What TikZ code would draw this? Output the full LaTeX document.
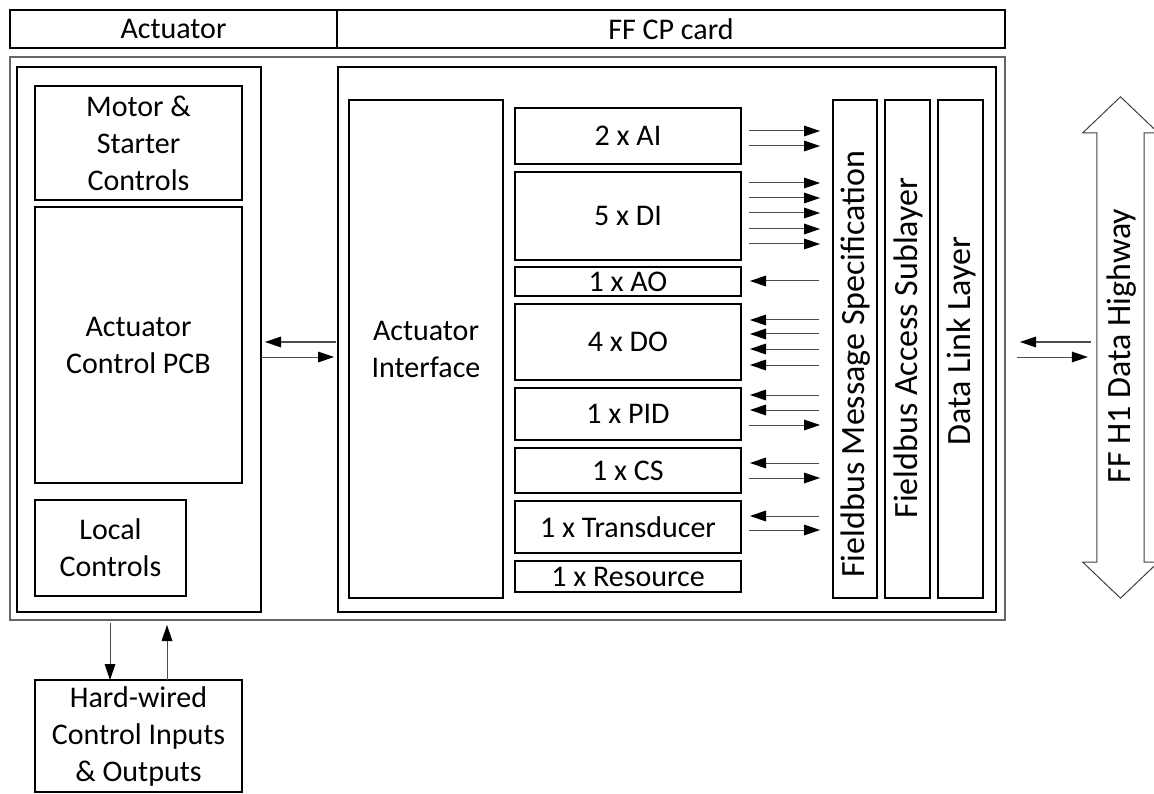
\documentclass[tikz,border=0pt]{standalone}
\usepackage{fontspec}
\setmainfont{Carlito}
\usetikzlibrary{arrows.meta, positioning, calc}

\begin{document}
\begin{tikzpicture}[x=1pt, y=-1pt,
  every node/.style={font=\fontsize{30}{37}\selectfont},
  blk/.style={rectangle, draw=black, line width=1.3pt, inner sep=0pt,
              outer sep=0pt, anchor=north west, align=center},
  box/.style n args={2}{blk, minimum width=#1, minimum height=#2},
  vtext/.style={rotate=90, inner sep=0pt, font=\fontsize{34}{40}\selectfont},
  flow/.style={-{Triangle[length=16pt,width=11pt,fill=black,line width=0pt]},
               line width=1pt, draw=black!70},
]
\useasboundingbox (0,0) rectangle (1154,794);

% Header
\node[box={327pt}{38pt}] (acthead) at (10,10) {Actuator};
\node[box={668pt}{38pt}] (ffhead)  at (337,10) {FF CP card};

% Frames
\node[box={995pt}{563pt}, draw=black!60] (outer) at (10,57) {};
\node[box={244pt}{545pt}] (act)    at (17,67) {};
\node[box={658pt}{545pt}] (ffcard) at (338,67) {};

% Actuator side
\node[box={207pt}{114pt}] (motor) at (35,86)  {Motor \&\\Starter\\Controls};
\node[box={207pt}{276pt}] (pcb)   at (35,207) {Actuator\\Control PCB};
\node[box={151pt}{96pt}]  (local) at (35,500) {Local\\Controls};
\node[box={207pt}{112pt}] (hw)    at (35,680) {Hard-wired\\Control Inputs\\\& Outputs};

% FF CP card side
\node[box={154pt}{498pt}] (aif) at (349,100) {Actuator\\Interface};
\node[box={226pt}{56pt}] (ai)  at (515,108) {2 x AI};
\node[box={226pt}{88pt}] (di)  at (515,172) {5 x DI};
\node[box={226pt}{29pt}] (ao)  at (515,267) {1 x AO};
\node[box={226pt}{76pt}] (do)  at (515,304) {4 x DO};
\node[box={226pt}{52pt}] (pid) at (515,388) {1 x PID};
\node[box={226pt}{45pt}] (cs)  at (515,448) {1 x CS};
\node[box={226pt}{52pt}] (td)  at (515,501) {1 x Transducer};
\node[box={226pt}{31pt}] (res) at (515,561) {1 x Resource};

% Protocol layers
\node[box={44pt}{498pt}] (fms)  at (833,100) {};
\node[box={45pt}{498pt}] (fasl) at (885,100) {};
\node[box={45pt}{498pt}] (dll)  at (938,100) {};
\node[vtext] (fmstext)  at (856,364) {Fieldbus Message Specification};
\node[vtext] (fasltext) at (908,348) {Fieldbus Access Sublayer};
\node[vtext] (dlltext)  at (961,341) {Data Link Layer};

% Data highway
\node[minimum width=47pt, minimum height=429pt, inner sep=0pt] (hwy) at (1120.5,347.5) {};
\draw[line width=1pt, black!75] (hwy.north west) -- ++(-14,0) -- ([yshift=36pt]hwy.north)
  -- ([xshift=14pt]hwy.north east) -- (hwy.north east) -- (hwy.south east)
  -- ([xshift=14pt]hwy.south east) -- ([yshift=-36pt]hwy.south)
  -- ([xshift=-14pt]hwy.south west) -- (hwy.south west) -- cycle;
\node[vtext] (hwytext) at (1122,346) {FF H1 Data Highway};

% Function block flows
\foreach \yy in {131,146,183,198,213,229,244,425,478,530}
  \draw[flow] ($(ai.east |- 0,\yy)+(8,0)$) -- ($(fms.west |- 0,\yy)+(-13,0)$);
\foreach \yy in {281,320,334,349,365,395,410,463,516}
  \draw[flow] ($(fms.west |- 0,\yy)+(-14,0)$) -- ($(ai.east |- 0,\yy)+(9,0)$);

% Actuator <-> interface
\draw[flow] ($(ffcard.west |- 0,342)+(-2,0)$) -- ($(act.east |- 0,342)+(4,0)$);
\draw[flow] (act.east |- 0,357) -- ($(ffcard.west |- 0,357)+(-4,0)$);

% Card <-> highway
\draw[flow] ($(hwy.west |- 0,342)+(-6,0)$) -- ($(outer.east |- 0,342)+(15,0)$);
\draw[flow] ($(outer.east |- 0,357)+(12,0)$) -- ($(hwy.west |- 0,357)+(-9,0)$);

% Hard-wired I/O
\draw[flow] ($(outer.south -| 110,0)+(0,3)$) -- (hw.north -| 110,0);
\draw[flow] (hw.north -| 167,0) -- ($(outer.south -| 167,0)+(0,5)$);

\end{tikzpicture}
\end{document}
